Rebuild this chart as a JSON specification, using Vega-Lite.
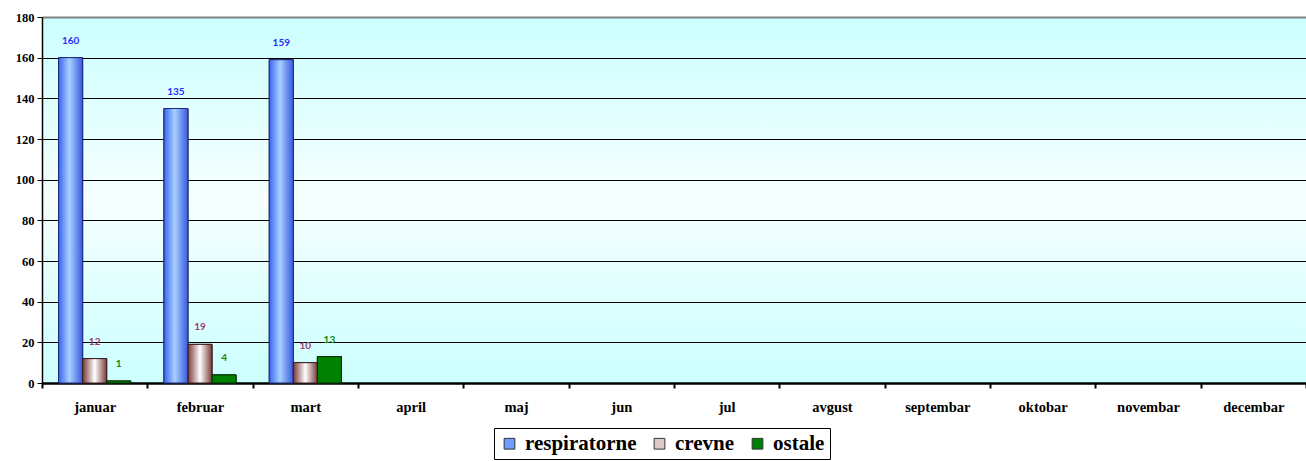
{
  "$schema": "https://vega.github.io/schema/vega-lite/v6.json",
  "width": 1264,
  "height": 366,
  "autosize": {"type": "none"},
  "padding": {"left": 42, "top": 17, "right": 0, "bottom": 78},
  "background": "white",
  "config": {
    "view": {
      "stroke": null,
      "fill": {"gradient": "linear", "x1": 0, "y1": 0, "x2": 0, "y2": 1,
        "stops": [{"offset": 0, "color": "#ccffff"}, {"offset": 0.5, "color": "#f6ffff"}, {"offset": 1, "color": "#ccffff"}]}
    }
  },
  "data": {
    "values": [
      {"month": "januar", "series": "respiratorne", "value": 160},
      {"month": "januar", "series": "crevne", "value": 12},
      {"month": "januar", "series": "ostale", "value": 1},
      {"month": "februar", "series": "respiratorne", "value": 135},
      {"month": "februar", "series": "crevne", "value": 19},
      {"month": "februar", "series": "ostale", "value": 4},
      {"month": "mart", "series": "respiratorne", "value": 159},
      {"month": "mart", "series": "crevne", "value": 10},
      {"month": "mart", "series": "ostale", "value": 13}
    ]
  },
  "encoding": {
    "x": {
      "field": "month", "type": "nominal", "sort": null,
      "scale": {"domain": ["januar", "februar", "mart", "april", "maj", "jun", "jul", "avgust", "septembar", "oktobar", "novembar", "decembar"], "paddingInner": 0, "paddingOuter": 0},
      "axis": {"title": null, "labelAngle": 0, "labelFont": "Liberation Serif", "labelFontSize": 14.5, "labelFontWeight": "bold", "labelColor": "black", "labelPadding": 12, "domainColor": "black", "domainWidth": 2.5, "tickColor": "black", "tickWidth": 2, "tickSize": 5, "tickBand": "extent", "grid": false}
    },
    "xOffset": {"field": "series", "type": "nominal", "scale": {"domain": ["respiratorne", "crevne", "ostale"], "paddingInner": 0, "paddingOuter": 0.69}},
    "y": {
      "field": "value", "type": "quantitative",
      "scale": {"domain": [0, 180], "nice": false},
      "axis": {"title": null, "values": [0, 20, 40, 60, 80, 100, 120, 140, 160, 180], "labelFont": "Liberation Serif", "labelFontSize": 12.5, "labelFontWeight": "bold", "labelColor": "black", "labelPadding": 3, "domainColor": "black", "domainWidth": 1.5, "tickColor": "black", "tickSize": 5, "grid": true,
        "gridColor": {"condition": {"test": "datum.value == 180", "value": "#808080"}, "value": "black"},
        "gridWidth": {"condition": {"test": "datum.value == 180", "value": 2}, "value": 1}}
    }
  },
  "layer": [
    {
      "mark": {"type": "bar", "stroke": "#222", "strokeWidth": 1},
      "encoding": {
        "color": {
          "field": "series", "type": "nominal",
          "scale": {"domain": ["respiratorne", "crevne", "ostale"], "range": ["#6f9cff", "#dcc8c8", "#008000"]},
          "legend": {"orient": "none", "legendX": 452, "legendY": 411, "direction": "horizontal", "title": null, "symbolType": "square", "symbolSize": 115, "symbolStrokeColor": "#333", "symbolStrokeWidth": 1, "labelFont": "Liberation Serif", "labelFontSize": 21, "labelFontWeight": "bold", "labelColor": "black", "labelLimit": 300, "strokeColor": "black", "fillColor": "white", "padding": 5, "columnPadding": 12, "labelOffset": 5}
        }
      }
    },
    {
      "transform": [{"filter": "datum.series === 'respiratorne'"}],
      "mark": {"type": "bar", "stroke": "#1a2a80", "strokeWidth": 1,
        "fill": {"gradient": "linear", "x1": 0, "y1": 0, "x2": 1, "y2": 0,
          "stops": [{"offset": 0, "color": "#3a66f0"}, {"offset": 0.45, "color": "#a9d0ff"}, {"offset": 1, "color": "#3559e0"}]}},
      "encoding": {}
    },
    {
      "transform": [{"filter": "datum.series === 'crevne'"}],
      "mark": {"type": "bar", "stroke": "#3a1a1a", "strokeWidth": 1,
        "fill": {"gradient": "linear", "x1": 0, "y1": 0, "x2": 1, "y2": 0,
          "stops": [{"offset": 0, "color": "#7a3838"}, {"offset": 0.5, "color": "#ffffff"}, {"offset": 1, "color": "#7a3a3a"}]}},
      "encoding": {}
    },
    {
      "transform": [{"filter": "datum.series === 'ostale'"}],
      "mark": {"type": "bar", "stroke": "#003000", "strokeWidth": 1, "fill": "#008000"},
      "encoding": {}
    },
    {
      "mark": {"type": "text", "font": "Lato", "fontSize": 10, "fontWeight": "bold", "baseline": "middle", "dy": -17},
      "encoding": {
        "text": {"field": "value", "type": "quantitative"},
        "fill": {"field": "series", "type": "nominal", "scale": {"domain": ["respiratorne", "crevne", "ostale"], "range": ["#2a2aff", "#a03a6a", "#118811"]}, "legend": null}
      }
    }
  ]
}
